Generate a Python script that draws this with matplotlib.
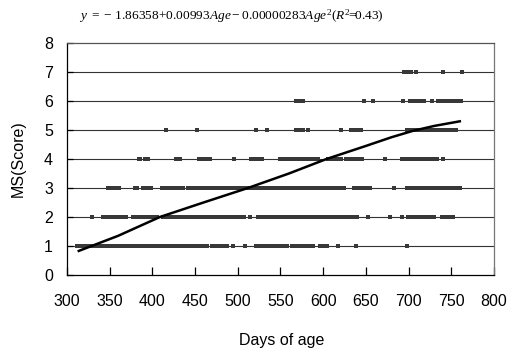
import matplotlib
matplotlib.use("Agg")
import matplotlib.pyplot as plt

# MS score observations, ages (days) read per score level
score1 = [312, 315, 318, 321, 324, 327, 330, 333, 336, 339, 342, 345, 348, 351, 354, 357, 360, 363,
          366, 369, 372, 375, 378, 381, 384, 387, 390, 393, 396, 399, 402, 405, 408, 411, 414, 417,
          420, 423, 426, 429, 432, 435, 438, 441, 444, 447, 450, 453, 456, 459, 462, 464, 470, 473,
          478, 483, 487, 495, 508, 522, 525, 528, 531, 534, 537, 540, 543, 546, 549, 552, 555, 558,
          564, 567, 570, 573, 576, 579, 582, 585, 588, 596, 601, 605, 617, 638, 698]
score2 = [329, 342, 345, 348, 351, 355, 359, 362, 365, 369, 378, 381, 384, 387, 390, 393, 396, 399,
          402, 405, 413, 416, 419, 422, 425, 428, 431, 434, 437, 440, 443, 446, 449, 452, 455, 458,
          461, 464, 467, 470, 473, 476, 479, 482, 485, 488, 491, 494, 497, 500, 503, 507, 514, 524,
          527, 530, 533, 536, 539, 542, 545, 548, 551, 554, 557, 560, 563, 566, 569, 572, 575, 578,
          581, 584, 587, 590, 593, 596, 599, 602, 605, 608, 611, 614, 617, 620, 623, 626, 629, 633,
          636, 640, 652, 678, 692, 699, 702, 705, 708, 711, 714, 717, 720, 723, 727, 730, 739, 742,
          745, 748, 752]
score3 = [348, 351, 354, 357, 361, 380, 382, 389, 392, 395, 399, 411, 414, 417, 420, 423, 426, 429,
          432, 436, 442, 446, 448, 451, 454, 457, 460, 463, 466, 468, 472, 475, 478, 481, 484, 487,
          490, 493, 496, 499, 502, 505, 507, 511, 514, 517, 520, 523, 526, 529, 532, 535, 538, 541,
          544, 547, 550, 553, 556, 559, 562, 565, 568, 571, 574, 577, 580, 583, 586, 589, 592, 595,
          598, 601, 604, 607, 610, 613, 616, 620, 625, 636, 639, 642, 645, 648, 651, 655, 683, 698,
          701, 704, 707, 710, 713, 716, 719, 722, 725, 728, 731, 734, 737, 740, 743, 746, 749, 752,
          755, 758, 760]
score4 = [384, 386, 392, 395, 428, 432, 455, 458, 461, 464, 468, 496, 516, 519, 522, 525, 529, 549,
          552, 555, 558, 561, 564, 567, 570, 573, 576, 579, 581, 585, 588, 591, 594, 606, 609, 612,
          615, 618, 621, 627, 630, 633, 636, 639, 642, 645, 673, 692, 695, 698, 701, 704, 707, 710,
          713, 716, 719, 722, 725, 728, 731, 733, 740]
score5 = [416, 452, 521, 534, 568, 571, 574, 576, 582, 621, 633, 636, 640, 644, 698, 701, 704, 707,
          710, 715, 718, 721, 724, 727, 730, 733, 736, 739, 742, 745, 748, 751, 754, 756]
score6 = [568, 571, 574, 576, 648, 658, 694, 702, 705, 708, 711, 714, 718, 727, 735, 738, 741, 744,
          747, 750, 753, 756, 759, 761]
score7 = [695, 698, 701, 703, 709, 740, 763]

# fitted curve as drawn
fit_age = [314, 360, 409, 460, 512, 560, 604, 650, 680, 705, 730, 760]
fit_ms = [0.83, 1.35, 2.0, 2.5, 3.0, 3.5, 4.0, 4.45, 4.75, 4.97, 5.14, 5.3]

x_ticks = [300, 350, 400, 450, 500, 550, 600, 650, 700, 750, 800]
y_ticks = [0, 1, 2, 3, 4, 5, 6, 7, 8]

plt.rcParams["font.family"] = "Liberation Sans"
plt.rcParams["mathtext.fontset"] = "custom"
plt.rcParams["mathtext.rm"] = "Liberation Serif"
plt.rcParams["mathtext.it"] = "Liberation Serif:italic"

fig = plt.figure(figsize=(5.1, 3.54), dpi=100)
ax = fig.add_axes([0.131, 0.2232, 0.8376, 0.6553])

for score, ages in enumerate([score1, score2, score3, score4, score5, score6, score7], start=1):
    ax.plot(ages, [score] * len(ages), linestyle="none", marker="s", markersize=2.4,
            color="#383838", markeredgewidth=0, zorder=3)

ax.plot(fit_age, fit_ms, color="black", linewidth=1.8, zorder=4)

ax.set_xlim(300, 800)
ax.set_ylim(0, 8)
ax.set_xticks(x_ticks)
ax.set_yticks(y_ticks)
ax.tick_params(axis="x", direction="in", length=6, width=0.9, pad=14, labelsize=11.5)
ax.tick_params(axis="y", direction="in", length=4, width=0.9, pad=10, labelsize=11.5)
for v in y_ticks[1:-1]:
    ax.axhline(v, color="#333333", linewidth=0.8, zorder=1)

ax.spines["left"].set_color("black")
ax.spines["bottom"].set_color("black")
ax.spines["top"].set_color("#555555")
ax.spines["right"].set_color("#777777")
for sp in ax.spines.values():
    sp.set_linewidth(0.9)

fig.text(18 / 510, 1 - 159 / 354, "MS(Score)", rotation=90, ha="center", va="center", fontsize=11.5)
fig.text(282 / 510, 1 - 340 / 354, "Days of age", ha="center", va="center", fontsize=11.5)
fig.text(231 / 510, 1 - 16 / 354,
         r"$y\ =\ {-}\ 1.86358{+}0.00993Age-0.00000283Age^{2}(R^{2}\!\!=\!\!0.43)$",
         ha="center", va="center", fontsize=9.6)

fig.savefig("out.png", dpi=100)
